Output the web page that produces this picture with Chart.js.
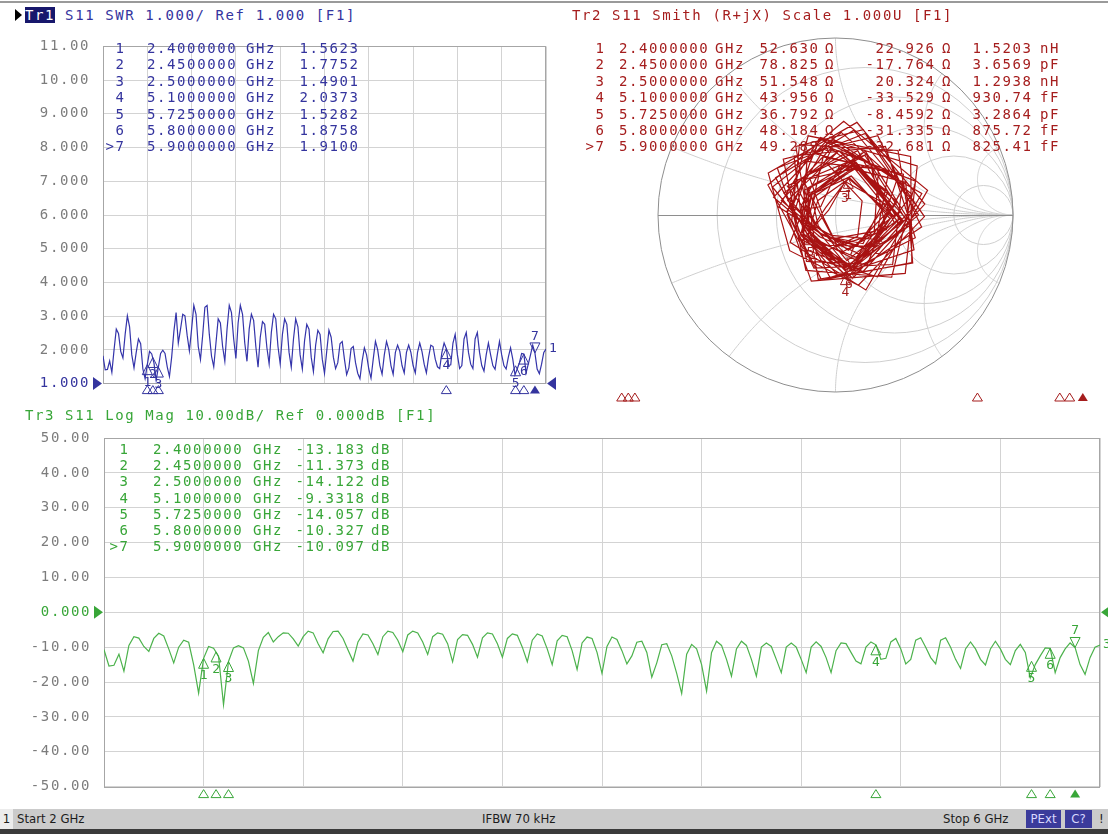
<!DOCTYPE html>
<html>
<head>
<meta charset="utf-8">
<title>S11 – SWR / Smith / Log Mag</title>
<script src="https://cdn.jsdelivr.net/npm/chart.js@4.4.1/dist/chart.umd.min.js"></script>
<style>
  html, body { margin: 0; padding: 0; background: #fff; width: 1108px; height: 834px; overflow: hidden; }
  #wrap { position: relative; width: 1108px; height: 834px; background: #fff; }
  canvas { position: absolute; }
  .t { position: absolute; font-family: "DejaVu Sans Mono", "Liberation Mono", monospace; font-size: 14px;
       letter-spacing: 1.6px; white-space: pre; line-height: 16px; }
  #topline { position: absolute; left: 0; top: 1px; width: 1108px; height: 2px; background: #9a9a9a; }
  .act { background: #17176c; color: #fff; }
  #arrow { position: absolute; left: 15px; top: 9px; width: 0; height: 0;
           border-left: 7px solid #000; border-top: 6px solid transparent; border-bottom: 6px solid transparent; }
  #status { position: absolute; left: 0; top: 809px; width: 1108px; height: 20px; background: #cbcbcb;
            font-family: "Liberation Sans Narrow", "DejaVu Sans Condensed", sans-serif; font-size: 13px; color: #1c1c1c; }
  #status span, #status div { position: absolute; top: 0; line-height: 20px; }
  #status .ch { left: 0; width: 13px; height: 20px; background: #ececec; text-align: center; }
  #status .box { top: 1px; height: 18px; line-height: 18px; background: #3b3b9b; color: #d8d8ff; text-align: center; }
  #bottomline { position: absolute; left: 0; top: 829px; width: 1108px; height: 5px; background: #3a3a3a; }
</style>
</head>
<body>
<div id="wrap">
  <div id="topline"></div>
  <canvas id="swr" width="564" height="380" style="left:0px;top:25px"></canvas>
  <canvas id="smith" width="554" height="380" style="left:554px;top:25px"></canvas>
  <canvas id="logmag" width="1108" height="403" style="left:0px;top:405px"></canvas>
  <div id="arrow"></div>
  <div id="status"></div>
  <div id="bottomline"></div>
</div>
<script>
// ---- Sweep -------------------------------------------------------------
const sweepStartGHz = 2.0;
const sweepStopGHz = 6.0;
const sweepPoints = 201;
const ifbwKHz = 70;

// ---- S11 magnitude (dB), one value per sweep point ---------------------
const s11MagDb = [
  -10.7, -15.4, -15.2, -12.0, -16.9, -9.5, -7.0, -7.4, -9.8, -11.2,
  -7.5, -6.0, -6.8, -10.5, -14.5, -10.0, -8.0, -8.6, -15.0, -23.2,
  -13.2, -9.8, -10.3, -12.6, -26.5, -14.1, -10.2, -9.6, -10.2, -14.0,
  -20.4, -11.0, -7.2, -5.8, -8.5, -7.0, -5.9, -6.0, -7.6, -9.7,
  -7.0, -5.4, -5.9, -9.0, -11.6, -7.6, -5.5, -5.4, -7.5, -10.8,
  -14.0, -8.5, -6.2, -6.5, -9.0, -12.1, -7.0, -5.4, -5.8, -8.0,
  -11.3, -6.5, -5.4, -5.9, -8.5, -12.1, -7.0, -5.9, -6.3, -9.0,
  -14.2, -7.8, -6.4, -6.6, -9.2, -12.9, -7.3, -5.9, -6.2, -9.0,
  -12.9, -7.5, -6.2, -6.6, -10.0, -14.2, -8.0, -6.2, -6.8, -10.5,
  -15.0, -8.2, -6.6, -7.0, -11.0, -16.4, -8.8, -7.1, -7.5, -11.5,
  -17.5, -9.8, -7.1, -7.8, -11.0, -14.8, -12.5, -8.6, -8.3, -11.5,
  -18.6, -14.5, -9.3, -9.0, -12.5, -17.5, -23.3, -12.0, -9.2, -10.5,
  -15.0, -22.6, -11.5, -8.3, -9.5, -13.5, -18.3, -10.5, -8.3, -9.5,
  -13.5, -18.3, -10.0, -8.8, -9.8, -13.5, -17.3, -10.0, -8.8, -10.0,
  -13.5, -17.3, -10.0, -8.5, -9.8, -13.0, -17.3, -11.0, -8.8, -9.0,
  -11.5, -14.0, -14.8, -10.0, -8.5, -9.33, -13.5, -13.2, -8.5, -7.5,
  -10.5, -14.8, -13.5, -8.0, -7.3, -10.0, -13.0, -14.8, -8.0, -7.3,
  -10.0, -13.5, -16.1, -10.5, -8.5, -10.5, -13.5, -15.1, -10.5, -8.3,
  -10.5, -13.5, -15.0, -11.0, -9.2, -11.5, -18.8, -15.0, -12.5, -10.2,
  -10.33, -17.3, -13.0, -10.5, -8.8, -10.1, -15.0, -17.8, -13.0, -10.0,
  -9.4
];

// ---- S11 phase (degrees), one value per sweep point --------------------
const s11PhaseDeg = [
  99, 28, -44, -115, 173, 102, 31, -41, -112, 176,
  95, 14, -68, -149, 139, 68, -3, -75, -146, 142,
  71, 0, -72, -143, 145, 74, 9, -57, -122, 172,
  150, 85, 25, -32, -105, 120, 72, -1, -72, -142,
  148, 77, 7, -64, -134, 156, 85, 15, -56, -126,
  164, 93, 23, -48, -118, 171, 101, 31, -40, -110,
  179, 109, 38, -32, -102, -173, 117, 46, -24, -95,
  -165, 125, 54, -16, -87, -157, 133, 62, -8, -79,
  -149, 141, 70, 0, -71, -141, 148, 78, 7, -63,
  -133, 156, 86, 15, -55, -125, 164, 94, 23, -47,
  -118, 172, 102, 31, -39, -110, 180, 110, 39, -31,
  -102, -172, 118, 47, -23, -94, -164, 125, 55, -16,
  -86, -156, 133, 63, -8, -78, -148, 141, 71, 0,
  -70, -140, 149, 79, 8, -62, -133, 157, 87, 16,
  -54, -125, 165, 94, 24, -46, -122, 163, 87, 12,
  -64, -139, 146, 70, -5, -81, -153, 136, 64, -8,
  -80, -152, 136, 65, -7, -79, -151, 137, 65, -7,
  -79, -150, 138, 66, -6, -78, -150, 139, 67, -5,
  -77, -149, 139, 67, -5, -76, -148, 140, 68, -4,
  -76, -148, 141, 69, -3, -75, -147, 141, 69, -2,
  -74
];

// ---- Markers -----------------------------------------------------------
const markerFreqGHz = [2.4, 2.45, 2.5, 5.1, 5.725, 5.8, 5.9];
const markerSwr = [1.5623, 1.7752, 1.4901, 2.0373, 1.5282, 1.8758, 1.9100];
const markerLogMagDb = [-13.183, -11.373, -14.122, -9.3318, -14.057, -10.327, -10.097];
const markerResOhm = [52.630, 78.825, 51.548, 43.956, 36.792, 48.184, 49.289];
const markerReactOhm = [22.926, -17.764, 20.324, -33.529, -8.4592, -31.335, -32.681];
const markerEquivValue = [1.5203, 3.6569, 1.2938, 930.74, 3.2864, 875.72, 825.41];
const markerEquivUnit = ['nH', 'pF', 'nH', 'fF', 'pF', 'fF', 'fF'];
const activeMarker = 6;
const z0Ohm = 50;

// ---- Scale settings ----------------------------------------------------
const swrRef = 1.0, swrPerDiv = 1.0;
const logMagRefDb = 0.0, logMagPerDivDb = 10.0;
const divisions = 10;
const smithScale = 1.0;
const smithResCircles = [0.2, 0.5, 1, 2, 5];
const smithReactArcs = [0.2, 0.5, 1, 2, 5];

// ---- Colours / fonts ---------------------------------------------------
const BLUE_TXT = '#34349e', BLUE_TRACE = '#3434aa';
const RED_TXT = '#a51d1d', RED_TRACE = '#a81212';
const GREEN_TXT = '#38a638', GREEN_TRACE = '#4cb24c';
const GRID = '#d3d3d3', FRAME = '#a6a6a6', TICK = '#7c7c7c';
const SMITH_GRID = '#cfcfcf', SMITH_EDGE = '#8e8e8e';
const MONO = '"DejaVu Sans Mono", "Liberation Mono", monospace';

// ---- Derived trace data ------------------------------------------------
const freqGHz = Array.from({ length: sweepPoints },
  (_, i) => sweepStartGHz + i * (sweepStopGHz - sweepStartGHz) / (sweepPoints - 1));
const s11Lin = s11MagDb.map(d => Math.pow(10, d / 20));
const swrTrace = s11Lin.map(m => (1 + m) / (1 - m));
const smithTrace = s11Lin.map((m, i) => ({
  x: m * Math.cos(s11PhaseDeg[i] * Math.PI / 180),
  y: m * Math.sin(s11PhaseDeg[i] * Math.PI / 180)
}));
function gammaFromZ(r, x) {
  const a = r / z0Ohm, b = x / z0Ohm;
  const den = (a + 1) * (a + 1) + b * b;
  return { x: (a * a + b * b - 1) / den, y: 2 * b / den };
}
const markerGamma = markerResOhm.map((r, i) => gammaFromZ(r, markerReactOhm[i]));

// ---- Text helpers ------------------------------------------------------
const wrap = document.getElementById('wrap');
function txt(text, x, yc, color, align) {
  const el = document.createElement('div');
  el.className = 't';
  el.textContent = text;
  el.style.color = color;
  el.style.top = (yc - 8) + 'px';
  if (align === 'right') el.style.right = (1108 - x - 1.6) + 'px';
  else el.style.left = x + 'px';
  wrap.appendChild(el);
  return el;
}
const fmtFreq = f => f.toFixed(7);
const p5 = v => v.toPrecision(5);
const mLabel = i => (i === activeMarker ? '>' : '') + (i + 1);

// Titles
const t1 = txt('', 25, 15, BLUE_TXT);
t1.innerHTML = '<span class="act">Tr1</span> S11 SWR ' + swrPerDiv.toPrecision(4) + '/ Ref ' +
  swrRef.toPrecision(4) + ' [F1]';
txt('Tr2 S11 Smith (R+jX) Scale ' + smithScale.toPrecision(4) + 'U [F1]', 572, 15, RED_TXT);
txt('Tr3 S11 Log Mag ' + logMagPerDivDb.toPrecision(4) + 'dB/ Ref ' + logMagRefDb.toPrecision(4) + 'dB [F1]', 25, 415, GREEN_TXT);

// Marker tables
markerFreqGHz.forEach((f, i) => {
  const y1 = 48 + 16.4 * i;
  txt(mLabel(i), 124, y1, BLUE_TXT, 'right');
  txt(fmtFreq(f), 147, y1, BLUE_TXT);
  txt('GHz', 246, y1, BLUE_TXT);
  txt(p5(markerSwr[i]), 358, y1, BLUE_TXT, 'right');

  txt(mLabel(i), 604, y1, RED_TXT, 'right');
  txt(fmtFreq(f), 619, y1, RED_TXT);
  txt('GHz', 715, y1, RED_TXT);
  txt(p5(markerResOhm[i]), 818, y1, RED_TXT, 'right');
  txt('Ω', 825, y1, RED_TXT);
  txt(p5(markerReactOhm[i]), 934, y1, RED_TXT, 'right');
  txt('Ω', 942, y1, RED_TXT);
  txt(p5(markerEquivValue[i]), 1031, y1, RED_TXT, 'right');
  txt(markerEquivUnit[i], 1040, y1, RED_TXT);

  const y3 = 449 + 16.2 * i;
  txt(mLabel(i), 128, y3, GREEN_TXT, 'right');
  txt(fmtFreq(f), 153, y3, GREEN_TXT);
  txt('GHz', 253, y3, GREEN_TXT);
  txt(p5(markerLogMagDb[i]), 364, y3, GREEN_TXT, 'right');
  txt('dB', 371, y3, GREEN_TXT);
});

// Status bar
const sb = document.getElementById('status');
sb.innerHTML =
  '<div class="ch">1</div>' +
  '<span style="left:17px">Start ' + sweepStartGHz + ' GHz</span>' +
  '<span style="left:482px">IFBW ' + ifbwKHz + ' kHz</span>' +
  '<span style="left:943px">Stop ' + sweepStopGHz + ' GHz</span>' +
  '<div class="box" style="left:1026px;width:35px">PExt</div>' +
  '<div class="box" style="left:1065px;width:27px">C?</div>' +
  '<span style="left:1099px">!</span>';

// ---- Drawing helpers ---------------------------------------------------
function tri(ctx, x, y, dir, w, h, filled) {
  ctx.beginPath();
  if (dir === 'up') { ctx.moveTo(x, y); ctx.lineTo(x - w / 2, y + h); ctx.lineTo(x + w / 2, y + h); }
  else if (dir === 'down') { ctx.moveTo(x, y); ctx.lineTo(x - w / 2, y - h); ctx.lineTo(x + w / 2, y - h); }
  else if (dir === 'right') { ctx.moveTo(x, y); ctx.lineTo(x - w, y - h / 2); ctx.lineTo(x - w, y + h / 2); }
  else { ctx.moveTo(x, y); ctx.lineTo(x + w, y - h / 2); ctx.lineTo(x + w, y + h / 2); }
  ctx.closePath();
  if (filled) ctx.fill(); else ctx.stroke();
}
function markerGlyph(ctx, px, py, i) {
  ctx.font = '13px ' + MONO;
  ctx.textAlign = 'center';
  if (i === activeMarker) {
    tri(ctx, px, py, 'down', 10, 10, false);
    ctx.textBaseline = 'bottom';
    ctx.fillText(String(i + 1), px, py - 10);
  } else {
    tri(ctx, px, py, 'up', 10, 10, false);
    ctx.textBaseline = 'top';
    ctx.fillText(String(i + 1), px, py + 11);
  }
}

// Overlay for the two rectangular (frequency) plots
function rectOverlay(o) {
  return {
    id: 'rectOverlay',
    beforeDraw(chart) { chart.ctx.letterSpacing = '1.6px'; },
    beforeDatasetsDraw(chart) {
      const { ctx, chartArea: a } = chart;
      ctx.save();
      ctx.strokeStyle = FRAME; ctx.lineWidth = 1;
      ctx.strokeRect(Math.round(a.left) + 0.5, Math.round(a.top) + 0.5,
        Math.round(a.right - a.left) - 1, Math.round(a.bottom - a.top));
      ctx.restore();
    },
    afterDatasetsDraw(chart) {
      const { ctx, chartArea: a, scales: { x, y } } = chart;
      ctx.save();
      ctx.letterSpacing = '0px';
      ctx.fillStyle = o.color; ctx.strokeStyle = o.color; ctx.lineWidth = 1;
      // reference level pointers
      const yr = y.getPixelForValue(o.ref);
      tri(ctx, a.left - 1, yr, 'right', 9, 13, true);
      tri(ctx, a.right + 1, yr, 'left', 9, 13, true);
      // trace markers
      o.markerVals.forEach((v, i) => markerGlyph(ctx, x.getPixelForValue(markerFreqGHz[i]), y.getPixelForValue(v), i));
      // stimulus markers below the grid
      markerFreqGHz.forEach((f, i) => tri(ctx, x.getPixelForValue(f), a.bottom + o.stimGap, 'up', 10, 8, i === activeMarker));
      // trace number at sweep end
      const last = o.data[o.data.length - 1];
      ctx.font = '13px ' + MONO; ctx.textAlign = 'left'; ctx.textBaseline = 'middle';
      ctx.fillText(o.traceNo, x.getPixelForValue(last.x) + 3, y.getPixelForValue(last.y));
      ctx.restore();
    }
  };
}

function rectChart(id, data, o) {
  return new Chart(document.getElementById(id), {
    type: 'line',
    data: { datasets: [{ data, borderColor: o.trace, borderWidth: 1.2, pointRadius: 0, tension: 0, fill: false }] },
    options: {
      responsive: false, animation: false, devicePixelRatio: 1,
      layout: { padding: o.padding },
      plugins: { legend: { display: false }, tooltip: { enabled: false } },
      scales: {
        x: {
          type: 'linear', min: sweepStartGHz, max: sweepStopGHz,
          ticks: { display: false, stepSize: (sweepStopGHz - sweepStartGHz) / divisions },
          grid: { color: GRID, drawTicks: false }, border: { display: false },
          afterFit: s => { s.height = 0; }
        },
        y: {
          type: 'linear', min: o.min, max: o.max,
          ticks: {
            stepSize: o.step, padding: 13,
            font: { family: MONO, size: 14 },
            color: c => (c.tick && Math.abs(c.tick.value - o.ref) < 1e-9) ? o.color : TICK,
            callback: v => Number(v).toPrecision(4)
          },
          grid: { color: GRID, drawTicks: false }, border: { display: false },
          afterFit: s => { s.width = o.axisWidth; }
        }
      }
    },
    plugins: [rectOverlay(Object.assign({ data }, o))]
  });
}

// ---- Tr1: SWR ----------------------------------------------------------
const swrData = freqGHz.map((f, i) => ({ x: f, y: swrTrace[i] }));
rectChart('swr', swrData, {
  trace: BLUE_TRACE, color: BLUE_TXT, ref: swrRef,
  min: swrRef, max: swrRef + swrPerDiv * divisions, step: swrPerDiv,
  padding: { left: 0, top: 12, right: 18, bottom: 15 }, axisWidth: 103,
  markerVals: markerSwr, stimGap: 2, traceNo: '1'
});

// ---- Tr3: Log Mag ------------------------------------------------------
const logData = freqGHz.map((f, i) => ({ x: f, y: s11MagDb[i] }));
rectChart('logmag', logData, {
  trace: GREEN_TRACE, color: GREEN_TXT, ref: logMagRefDb,
  min: logMagRefDb - logMagPerDivDb * divisions / 2, max: logMagRefDb + logMagPerDivDb * divisions / 2,
  step: logMagPerDivDb,
  padding: { left: 0, top: 33, right: 8, bottom: 16 }, axisWidth: 104,
  markerVals: markerLogMagDb, stimGap: 3, traceNo: '3'
});

// ---- Tr2: Smith --------------------------------------------------------
const smithOverlay = {
  id: 'smithOverlay',
  beforeDatasetsDraw(chart) {
    const { ctx, scales: { x, y } } = chart;
    const X = v => x.getPixelForValue(v), Y = v => y.getPixelForValue(v);
    ctx.save();
    ctx.lineWidth = 1; ctx.strokeStyle = SMITH_GRID;
    smithResCircles.forEach(r => {
      const c = r / (1 + r), rad = 1 / (1 + r);
      ctx.beginPath();
      ctx.ellipse(X(c), Y(0), X(c + rad) - X(c), Y(0) - Y(rad), 0, 0, 2 * Math.PI);
      ctx.stroke();
    });
    smithReactArcs.forEach(xv => [xv, -xv].forEach(xx => {
      const cy = 1 / xx, rad = Math.abs(1 / xx);
      const px = (xx * xx - 1) / (xx * xx + 1), py = 2 * xx / (xx * xx + 1);
      const a1 = Math.atan2(-cy, 0);
      let a2 = Math.atan2(py - cy, px - 1);
      if (xx > 0) { while (a2 > a1) a2 -= 2 * Math.PI; } else { while (a2 < a1) a2 += 2 * Math.PI; }
      ctx.beginPath();
      for (let k = 0; k <= 160; k++) {
        const t = a1 + (a2 - a1) * k / 160;
        const gx = 1 + rad * Math.cos(t), gy = cy + rad * Math.sin(t);
        if (k === 0) ctx.moveTo(X(gx), Y(gy)); else ctx.lineTo(X(gx), Y(gy));
      }
      ctx.stroke();
    }));
    ctx.strokeStyle = SMITH_EDGE;
    ctx.beginPath();
    ctx.ellipse(X(0), Y(0), X(1) - X(0), Y(0) - Y(1), 0, 0, 2 * Math.PI);
    ctx.stroke();
    ctx.beginPath();
    ctx.moveTo(X(-1), Math.round(Y(0)) + 0.5); ctx.lineTo(X(1), Math.round(Y(0)) + 0.5);
    ctx.stroke();
    ctx.restore();
  },
  afterDatasetsDraw(chart) {
    const { ctx, scales: { x, y }, width } = chart;
    ctx.save();
    ctx.fillStyle = RED_TXT; ctx.strokeStyle = RED_TXT; ctx.lineWidth = 1;
    markerGamma.forEach((g, i) => markerGlyph(ctx, x.getPixelForValue(g.x), y.getPixelForValue(g.y), i));
    // stimulus markers along the panel bottom
    const left = 15, right = width - 12;
    markerFreqGHz.forEach((f, i) => {
      const px = left + (f - sweepStartGHz) / (sweepStopGHz - sweepStartGHz) * (right - left);
      tri(ctx, px, y.getPixelForValue(-1) + 1, 'up', 10, 8, i === activeMarker);
    });
    ctx.restore();
  }
};

new Chart(document.getElementById('smith'), {
  type: 'scatter',
  data: { datasets: [{ data: smithTrace, showLine: true, borderColor: RED_TRACE, borderWidth: 1.2, pointRadius: 0, tension: 0 }] },
  options: {
    responsive: false, animation: false, devicePixelRatio: 1,
    layout: { padding: { left: 104, right: 95, top: 13, bottom: 13 } },
    plugins: { legend: { display: false }, tooltip: { enabled: false } },
    scales: {
      x: { type: 'linear', min: -smithScale, max: smithScale, display: false },
      y: { type: 'linear', min: -smithScale, max: smithScale, display: false }
    }
  },
  plugins: [smithOverlay]
});
</script>
</body>
</html>
